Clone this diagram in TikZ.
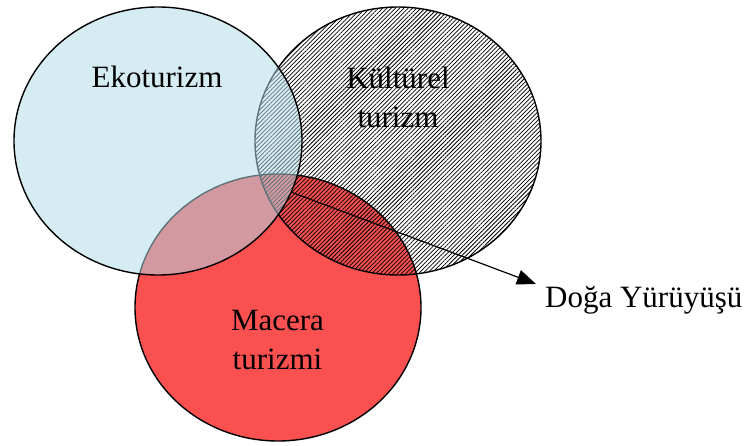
\documentclass[tikz,border=0pt]{standalone}
\usepackage{fontspec}
\setmainfont{Liberation Serif}
\usetikzlibrary{patterns.meta,arrows.meta,shapes.geometric}
\definecolor{ekoblue}{RGB}{177,219,232}
\definecolor{macred}{RGB}{250,80,80}
\begin{document}
\begin{tikzpicture}[x=1pt,y=-1pt,
  set/.style={ellipse,inner sep=0pt,outer sep=0pt,draw=black,line width=1.4pt},
  lbl/.style={font=\fontsize{31}{39}\selectfont,align=center,inner sep=0pt,text=black}]
\useasboundingbox (0,0) rectangle (748,446);
\node[set,fill=macred,minimum width=286pt,minimum height=267pt] (mac) at (278,307.5) {};
\node[set,pattern={Lines[angle=45,distance=3pt,line width=0.75pt]},pattern color=black,minimum width=286pt,minimum height=268pt] (kult) at (398,141) {};
\node[set,fill=ekoblue,fill opacity=0.53,minimum width=288pt,minimum height=268pt] (eko) at (158,141) {};
\node[lbl,anchor=base] (ekot) at (157,88) {Ekoturizm};
\node[lbl] (kultt) at (398,97) {Kültürel\\turizm};
\node[lbl] (mact) at (277.5,340) {Macera\\turizmi};
\coordinate (tip) at (536,284);
\node[lbl,anchor=base west] (doga) at (545,308) {Doğa Yürüyüşü};
\draw[line width=1.2pt,-{Triangle[length=19pt,width=15pt]}] (eko.-21) -- (tip);
\end{tikzpicture}
\end{document}
